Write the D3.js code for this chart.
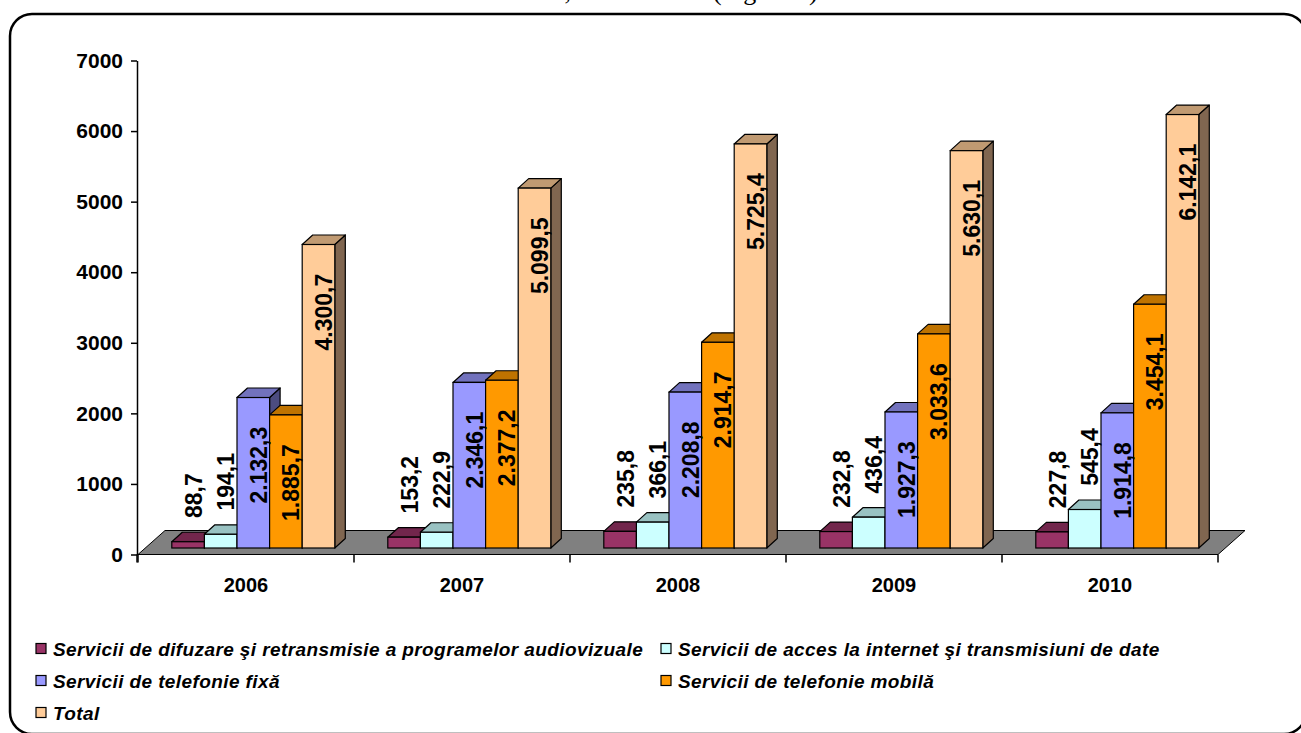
<!DOCTYPE html>
<html>
<head>
<meta charset="utf-8">
<script src="https://cdn.jsdelivr.net/npm/d3@7"></script>
<style>
  html, body { margin: 0; padding: 0; background: #fff; }
  svg { display: block; }
</style>
</head>
<body>
<svg id="chart" width="1301" height="733"></svg>
<script>
// ---------- data ----------
const categories = ["2006", "2007", "2008", "2009", "2010"];
const seriesNames = [
  "Servicii de difuzare şi retransmisie a programelor audiovizuale",
  "Servicii de acces la internet şi transmisiuni de date",
  "Servicii de telefonie fixă",
  "Servicii de telefonie mobilă",
  "Total"
];
const difuzare = [88.7, 153.2, 235.8, 232.8, 227.8];
const internet = [194.1, 222.9, 366.1, 436.4, 545.4];
const fixa     = [2132.3, 2346.1, 2208.8, 1927.3, 1914.8];
const mobila   = [1885.7, 2377.2, 2914.7, 3033.6, 3454.1];
const total    = [4300.7, 5099.5, 5725.4, 5630.1, 6142.1];
const yTicks   = [0, 1000, 2000, 3000, 4000, 5000, 6000, 7000];

const seriesValues = [difuzare, internet, fixa, mobila, total];
const frontColors = ["#993366", "#CCFFFF", "#9999FF", "#FF9900", "#FFCC99"];
const topColors   = ["#72264C", "#99C2C2", "#7272BD", "#BF7300", "#C09A72"];
const sideColors  = ["#4D1A33", "#668080", "#4C4C80", "#804D00", "#806650"];

// ---------- layout ----------
const svg = d3.select("#chart");
const FONT = "'Liberation Sans', Arial, sans-serif";

// clipped title (only the descenders show at the top edge, as in the reference)
const title = svg.append("text")
  .attr("y", 0)
  .attr("font-family", "'Liberation Serif', 'Times New Roman', serif")
  .attr("font-size", 26)
  .attr("fill", "#000");
title.append("tspan").attr("x", 571).attr("text-anchor", "end").text("Venituri totale,");
title.append("tspan").attr("x", 585).attr("text-anchor", "start").text("2006 – 2010");
title.append("tspan").attr("x", 713).text("(Figura 4)");

// frame
svg.append("rect")
  .attr("x", 10).attr("y", 14)
  .attr("width", 1296).attr("height", 720)
  .attr("rx", 22).attr("ry", 22)
  .attr("fill", "none")
  .attr("stroke", "#000")
  .attr("stroke-width", 2.5);

const y = d3.scaleLinear().domain([0, 7000]).range([554.5, 60.5]);
const x = d3.scaleBand().domain(categories).range([138, 1218]).paddingInner(0).paddingOuter(0);
const xs = d3.scaleBand().domain(d3.range(seriesNames.length)).range([0, x.bandwidth()])
  .paddingInner(0).paddingOuter(0.813);

// 3D offsets
const floorDX = 27, floorDY = -24;
const frontDX = 7.3, frontDY = -6.5;
const depthDX = 10.5, depthDY = -9.5;

// floor
const fx0 = x.range()[0], fx1 = x.range()[1], fy = y(0);
svg.append("path")
  .attr("d", `M${fx0},${fy} L${fx1},${fy} L${fx1 + floorDX},${fy + floorDY} L${fx0 + floorDX},${fy + floorDY} Z`)
  .attr("fill", "#808080")
  .attr("stroke", "#000")
  .attr("stroke-width", 1);

// y axis
const yAxis = svg.append("g")
  .attr("transform", "translate(137,0)")
  .call(d3.axisLeft(y).tickValues(yTicks).tickSize(6).tickSizeOuter(0).tickPadding(8).tickFormat(d3.format("d")));
yAxis.select(".domain").attr("stroke", "#000").attr("stroke-width", 1.5);
yAxis.selectAll(".tick line").attr("stroke", "#000").attr("stroke-width", 1.5);
yAxis.selectAll(".tick text")
  .attr("font-family", FONT).attr("font-size", 21).attr("font-weight", "bold").attr("fill", "#000");
svg.append("line")
  .attr("x1", 137).attr("x2", 137).attr("y1", y(0)).attr("y2", y(0) + 8)
  .attr("stroke", "#000").attr("stroke-width", 1.5);

// x axis boundary ticks
const bounds = categories.map(c => x(c)).concat([x.range()[1]]);
svg.selectAll("line.xtick").data(bounds).join("line")
  .attr("class", "xtick")
  .attr("x1", d => d).attr("x2", d => d)
  .attr("y1", y(0)).attr("y2", y(0) + 8)
  .attr("stroke", "#000").attr("stroke-width", 1.5);

const xAxis = svg.append("g")
  .attr("transform", `translate(0,${y(0)})`)
  .call(d3.axisBottom(x).tickSize(0).tickPadding(23));
xAxis.select(".domain").remove();
xAxis.selectAll(".tick text")
  .attr("font-family", FONT).attr("font-size", 20).attr("font-weight", "bold").attr("fill", "#000");

// bars
const fmt = d3.formatLocale({ decimal: ",", thousands: ".", grouping: [3], currency: ["", ""] }).format(",.1f");

const barsData = [];
categories.forEach((c, ci) => {
  seriesValues.forEach((vals, si) => {
    barsData.push({ c, ci, si, v: vals[ci] });
  });
});

const bw = xs.bandwidth();
const gBars = svg.append("g");
barsData.forEach(d => {
  const x0 = x(d.c) + xs(d.si) + frontDX;
  const x1 = x0 + bw;
  const yT = y(d.v) + frontDY;
  const yB = y(0) + frontDY;
  d.x0 = x0; d.x1 = x1; d.yT = yT;
  const g = gBars.append("g");
  g.append("path")
    .attr("d", `M${x1},${yT} L${x1 + depthDX},${yT + depthDY} L${x1 + depthDX},${yB + depthDY} L${x1},${yB} Z`)
    .attr("fill", sideColors[d.si]).attr("stroke", "#000").attr("stroke-width", 1.2).attr("stroke-linejoin", "round");
  g.append("path")
    .attr("d", `M${x0},${yT} L${x1},${yT} L${x1 + depthDX},${yT + depthDY} L${x0 + depthDX},${yT + depthDY} Z`)
    .attr("fill", topColors[d.si]).attr("stroke", "#000").attr("stroke-width", 1.2).attr("stroke-linejoin", "round");
  g.append("rect")
    .attr("x", x0).attr("y", yT).attr("width", bw).attr("height", yB - yT)
    .attr("fill", frontColors[d.si]).attr("stroke", "#000").attr("stroke-width", 1.2);
});

// labels
const gLab = svg.append("g");
barsData.forEach(d => {
  const cx = (d.x0 + d.x1) / 2 + depthDX / 2;
  const inside = d.v > 1000;
  const yPos = inside ? d.yT + depthDY / 2 + 34 : d.yT + depthDY / 2 - 19;
  gLab.append("text")
    .attr("transform", `translate(${cx},${yPos}) rotate(-90)`)
    .attr("text-anchor", inside ? "end" : "start")
    .attr("dy", "0.36em")
    .attr("font-family", FONT).attr("font-size", 23).attr("font-weight", "bold").attr("fill", "#000")
    .text(fmt(d.v));
});

// legend
const legendPos = [
  { sx: 36, row: 0 }, { sx: 661, row: 0 },
  { sx: 36, row: 1 }, { sx: 661, row: 1 },
  { sx: 36, row: 2 }
];
const rowY = [649, 681, 713];
const gLeg = svg.append("g");
seriesNames.forEach((name, i) => {
  const p = legendPos[i];
  const cy = rowY[p.row];
  gLeg.append("rect")
    .attr("x", p.sx).attr("y", cy - 5.5).attr("width", 10).attr("height", 10)
    .attr("fill", frontColors[i]).attr("stroke", "#000").attr("stroke-width", 1.2);
  gLeg.append("text")
    .attr("x", p.sx + 17).attr("y", cy).attr("dy", "0.36em")
    .attr("font-family", FONT).attr("font-size", 19).attr("font-weight", "bold").attr("font-style", "italic")
    .attr("letter-spacing", 0.4)
    .attr("fill", "#000")
    .text(name);
});
</script>
</body>
</html>
